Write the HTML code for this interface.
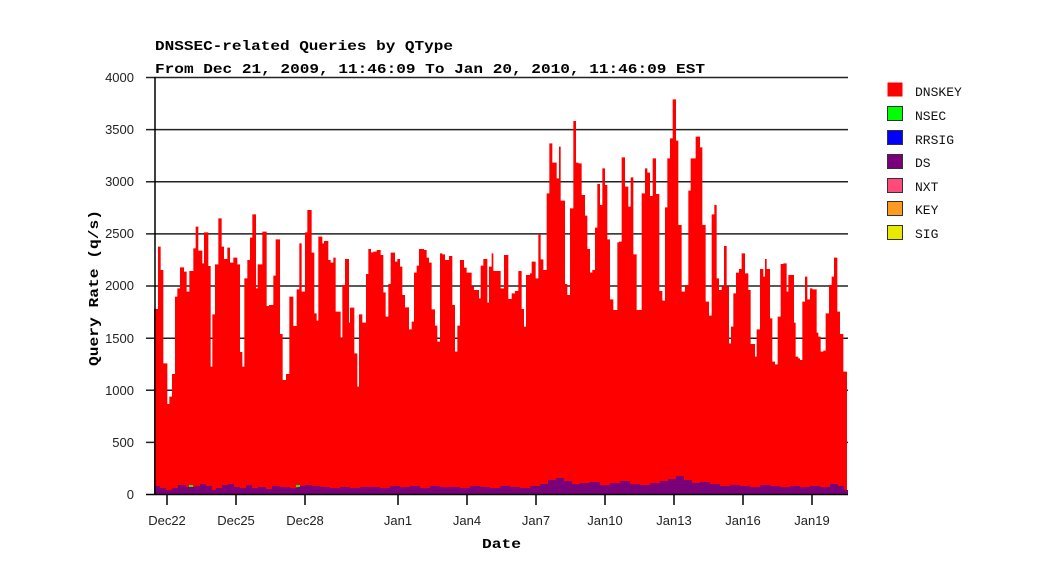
<!DOCTYPE html>
<html><head><meta charset="utf-8"><style>
html,body{margin:0;padding:0;background:#fff;}
svg{display:block;}
</style></head><body>
<svg width="1046" height="579" xmlns="http://www.w3.org/2000/svg">
<rect width="1046" height="579" fill="#fff"/>
<g font-family="Liberation Mono, monospace" font-weight="bold" font-size="14" fill="#000">
<text x="155" y="50" textLength="298" lengthAdjust="spacingAndGlyphs">DNSSEC-related Queries by QType</text>
<text x="155" y="73" textLength="550" lengthAdjust="spacingAndGlyphs">From Dec 21, 2009, 11:46:09 To Jan 20, 2010, 11:46:09 EST</text>
</g>
<!-- gridlines -->
<g stroke="#222" stroke-width="1.5">
<line x1="146" y1="77.5" x2="848" y2="77.5"/>
<line x1="146" y1="129.6" x2="848" y2="129.6"/>
<line x1="146" y1="181.8" x2="848" y2="181.8"/>
<line x1="146" y1="233.9" x2="848" y2="233.9"/>
<line x1="146" y1="286" x2="848" y2="286"/>
<line x1="146" y1="338.2" x2="848" y2="338.2"/>
<line x1="146" y1="390.3" x2="848" y2="390.3"/>
<line x1="146" y1="442.4" x2="848" y2="442.4"/>
</g>
<g fill="#ff0000">
<path transform="translate(150,200) scale(0.33333)" d="M12,882 V327 H24 V140 H32 V210 H40 V490 H52 V612 H58 V590 H66 V522 H75 V290 H82 V265 H90 V202 H102 V215 H110 V275 H118 V213 H130 V145 H137 V80 H145 V152 H157 V190 H162 V97 H175 V198 H182 V500 H187 V343 H195 V193 H205 V55 H215 V140 H222 V177 H232 V143 H240 V188 H250 V173 H262 V193 H270 V456 H277 V500 H283 V235 H292 V180 H300 V113 H307 V43 H318 V265 H323 V193 H337 V95 H350 V318 H357 V315 H370 V227 H377 V118 H390 V402 H398 V540 H408 V522 H418 V290 H430 V378 H440 V268 H448 V130 H455 V275 H465 V97 H472 V30 H485 V158 H493 V340 H500 V362 H505 V110 H517 V130 H522 V123 H535 V180 H542 V188 H550 V173 H557 V335 H572 V415 H577 V255 H585 V177 H597 V368 H600 V323 H613 V460 H622 V560 H627 V343 H637 V368 H648 V222 H655 V147 H663 V157 H670 V155 H680 V150 H692 V165 H700 V277 H707 V350 H715 V252 H722 V158 H735 V185 H742 V177 H750 V200 H757 V285 H765 V322 H777 V388 H785 V365 H792 V218 H800 V197 H807 V147 H822 V150 H830 V173 H837 V188 H845 V328 H855 V377 H862 V425 H870 V160 H877 V163 H885 V180 H897 V168 H907 V315 H915 V455 H922 V377 H930 V180 H942 V203 H950 V218 H965 V260 H972 V270 H987 V295 H992 V197 H1000 V177 H1012 V308 H1017 V200 H1025 V160 H1030 V213 H1052 V882 Z"/>
<path transform="translate(500,90) scale(0.33333)" d="M0,1212 V595 H12 V495 H25 V627 H35 V610 H45 V603 H55 V543 H65 V657 H72 V710 H78 V555 H90 V550 H95 V515 H107 V565 H115 V432 H122 V508 H130 V540 H140 V310 H148 V160 H157 V218 H170 V265 H177 V170 H182 V332 H195 V582 H202 V615 H210 V355 H220 V93 H228 V218 H235 V220 H245 V315 H255 V377 H262 V477 H270 V548 H277 V540 H285 V413 H292 V282 H300 V345 H307 V235 H315 V285 H322 V448 H330 V628 H340 V660 H352 V457 H357 V455 H365 V202 H375 V290 H385 V350 H392 V262 H400 V493 H410 V660 H425 V310 H435 V235 H442 V248 H450 V318 H458 V205 H468 V312 H478 V603 H487 V632 H495 V352 H502 V205 H510 V145 H518 V28 H528 V152 H535 V405 H545 V605 H555 V585 H565 V302 H572 V205 H587 V140 H600 V172 H607 V405 H617 V635 H627 V677 H635 V373 H643 V345 H650 V565 H657 V600 H665 V590 H672 V468 H680 V590 H687 V760 H693 V710 H700 V610 H708 V548 H717 V537 H725 V490 H735 V550 H745 V600 H752 V762 H765 V800 H770 V718 H780 V537 H790 V560 H795 V507 H800 V537 H810 V685 H817 V815 H825 V823 H833 V680 H842 V522 H850 V520 H860 V605 H865 V555 H882 V698 H887 V800 H895 V805 H900 V810 H907 V635 H915 V560 H922 V628 H930 V595 H937 V598 H950 V728 H955 V740 H962 V785 H970 V782 H977 V670 H987 V585 H995 V560 H1002 V503 H1012 V665 H1020 V732 H1030 V845 H1041 V1212 Z"/>
</g>
<!-- DS purple -->
<path fill="#7a007a" d="M154,494 V486 H160 V488 H166 V490 H172 V488 H178 V485 H186 V487 H195 V486 H200 V484 H206 V486 H212 V490 H216 V488 H222 V485 H228 V484 H234 V487 H240 V488 H246 V485 H252 V488 H258 V487 H266 V489 H272 V486 H280 V487 H290 V488 H298 V486 H305 V485 H312 V486 H320 V487 H330 V488 H340 V487 H350 V488 H360 V487 H370 V487 H380 V488 H390 V486 H400 V487 H410 V486 H420 V488 H430 V486 H440 V487 H450 V487 H460 V488 H470 V486 H480 V487 H490 V488 H500 V486 H510 V487 H520 V488 H530 V486 H540 V484 H548 V480 H556 V478 H564 V481 H572 V484 H580 V483 H590 V482 H600 V485 H610 V483 H620 V481 H630 V484 H640 V485 H650 V483 H660 V481 H668 V479 H676 V476 H684 V480 H692 V483 H700 V482 H710 V484 H720 V486 H730 V485 H740 V486 H750 V487 H760 V485 H770 V486 H780 V487 H790 V486 H800 V487 H810 V486 H820 V487 H830 V484 H838 V486 H844 V490 H848 V494 Z"/>
<rect x="189" y="485" width="4" height="2" fill="#00ff00"/>
<rect x="296" y="485" width="4" height="2" fill="#00ff00"/>
<!-- axes -->
<g stroke="#000" stroke-width="1.5">
<line x1="155" y1="77" x2="155" y2="495"/>
<line x1="146" y1="494.5" x2="848" y2="494.5"/>
<line x1="167" y1="494" x2="167" y2="505"/>
<line x1="236" y1="494" x2="236" y2="505"/>
<line x1="305" y1="494" x2="305" y2="505"/>
<line x1="398" y1="494" x2="398" y2="505"/>
<line x1="467" y1="494" x2="467" y2="505"/>
<line x1="536" y1="494" x2="536" y2="505"/>
<line x1="605" y1="494" x2="605" y2="505"/>
<line x1="674" y1="494" x2="674" y2="505"/>
<line x1="743" y1="494" x2="743" y2="505"/>
<line x1="812" y1="494" x2="812" y2="505"/>
</g>
<g font-family="Liberation Sans, sans-serif" font-size="13" fill="#222" text-anchor="end">
<text x="134" y="82">4000</text>
<text x="134" y="134">3500</text>
<text x="134" y="186">3000</text>
<text x="134" y="238">2500</text>
<text x="134" y="290">2000</text>
<text x="134" y="343">1500</text>
<text x="134" y="395">1000</text>
<text x="134" y="447">500</text>
<text x="134" y="499">0</text>
</g>
<g font-family="Liberation Sans, sans-serif" font-size="13" fill="#222" text-anchor="middle">
<text x="167" y="525">Dec22</text>
<text x="236" y="525">Dec25</text>
<text x="305" y="525">Dec28</text>
<text x="398" y="525">Jan1</text>
<text x="467" y="525">Jan4</text>
<text x="536" y="525">Jan7</text>
<text x="605" y="525">Jan10</text>
<text x="674" y="525">Jan13</text>
<text x="743" y="525">Jan16</text>
<text x="812" y="525">Jan19</text>
</g>
<g font-family="Liberation Mono, monospace" font-weight="bold" font-size="14" fill="#000">
<text x="482" y="548" textLength="39" lengthAdjust="spacingAndGlyphs">Date</text>
<text transform="translate(98,366) rotate(-90)" textLength="156" lengthAdjust="spacingAndGlyphs">Query Rate (q/s)</text>
</g>
<!-- legend -->
<g stroke="#333" stroke-width="1">
<rect x="887.5" y="82.5" width="15" height="14" fill="#ff0000" stroke="none"/>
<rect x="887.5" y="106.5" width="15" height="14" fill="#00ff00"/>
<rect x="887.5" y="130.5" width="15" height="14" fill="#0000ff"/>
<rect x="887.5" y="154.5" width="15" height="14" fill="#7a007a"/>
<rect x="887.5" y="178.5" width="15" height="14" fill="#ff4a7a"/>
<rect x="887.5" y="201.5" width="15" height="14" fill="#ff9a20"/>
<rect x="887.5" y="225.5" width="15" height="14" fill="#e8e800"/>
</g>
<g font-family="Liberation Mono, monospace" font-size="13" fill="#111">
<text x="915" y="96">DNSKEY</text>
<text x="915" y="120">NSEC</text>
<text x="915" y="144">RRSIG</text>
<text x="915" y="167">DS</text>
<text x="915" y="191">NXT</text>
<text x="915" y="214">KEY</text>
<text x="915" y="238">SIG</text>
</g>
</svg>
</body></html>
